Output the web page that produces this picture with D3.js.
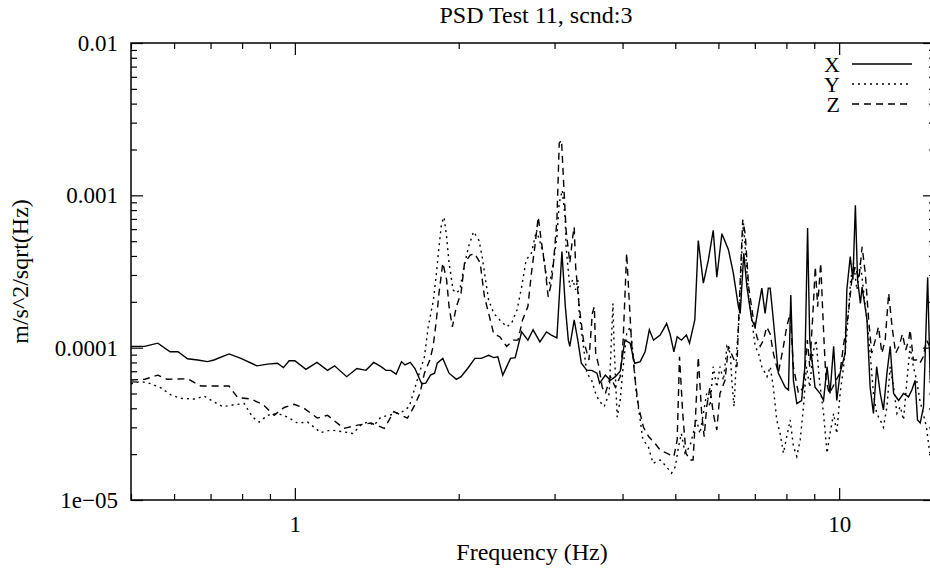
<!DOCTYPE html>
<html>
<head>
<meta charset="utf-8">
<script src="https://d3js.org/d3.v7.min.js"></script>
<style>
  body { margin: 0; background: #fff; }
  svg { display: block; }
</style>
</head>
<body>
<svg id="chart"></svg>
<script>
// PSD values (frequency in Hz, amplitude in m/s^2/sqrt(Hz))
var freqX = [0.50,0.53,0.56,0.59,0.61,0.635,0.663,0.691,0.71,0.757,0.796,0.852,0.891,0.929,0.953,0.976,1.0,1.048,1.098,1.148,
  1.183,1.245,1.30,1.351,1.396,1.44,1.47,1.50,1.535,1.57,1.593,1.63,1.662,1.71,1.74,1.775,1.806,1.826,1.87,1.92,
  1.98,2.02,2.077,2.142,2.2,2.27,2.32,2.36,2.41,2.49,2.54,2.61,2.68,2.74,2.82,2.90,2.96,3.03,3.095,3.14,
  3.18,3.2,3.26,3.31,3.36,3.44,3.51,3.59,3.63,3.72,3.8,3.88,3.96,4.04,4.13,4.21,4.31,4.40,4.48,4.56,
  4.69,4.82,4.89,4.97,5.04,5.13,5.24,5.31,5.43,5.51,5.63,5.75,5.87,5.96,6.09,6.26,6.39,6.53,6.58,6.68,
  6.77,6.91,7.01,7.11,7.21,7.31,7.41,7.47,7.57,7.73,7.96,8.07,8.15,8.24,8.36,8.53,8.65,8.75,8.83,9.03,
  9.23,9.36,9.5,9.62,9.77,9.9,10.04,10.26,10.33,10.48,10.6,10.71,10.81,10.94,11.02,11.25,11.4,11.56,11.72,11.9,
  12.06,12.24,12.41,12.59,12.86,13.13,13.41,13.6,13.79,13.93,14.09,14.29,14.54,14.7];
var psdX = [1.02e-4,1.02e-4,1.07e-4,9.4e-5,9.4e-5,8.45e-5,8.3e-5,8.1e-5,8.3e-5,9.1e-5,8.5e-5,7.6e-5,7.8e-5,7.9e-5,7.4e-5,8.2e-5,8.2e-5,7.2e-5,8.0e-5,7.1e-5,
  7.6e-5,6.45e-5,7.3e-5,7.1e-5,8.0e-5,7.5e-5,7.1e-5,7.1e-5,6.7e-5,8.1e-5,7.7e-5,8.0e-5,7.3e-5,5.8e-5,5.85e-5,6.6e-5,6.8e-5,7.9e-5,8.5e-5,6.8e-5,
  6.2e-5,6.45e-5,7.3e-5,8.5e-5,8.5e-5,8.9e-5,8.6e-5,8.7e-5,6.6e-5,8.5e-5,8.6e-5,1.27e-4,1.12e-4,1.31e-4,1.09e-4,1.27e-4,1.21e-4,1.16e-4,4.27e-4,1.86e-4,
  1.12e-4,1.02e-4,1.52e-4,1.12e-4,7.9e-5,7.1e-5,7.1e-5,6.8e-5,5.85e-5,6.6e-5,6.1e-5,6.45e-5,7.0e-5,1.12e-4,1.07e-4,7.9e-5,8.1e-5,9.4e-5,1.31e-4,1.12e-4,
  1.21e-4,1.44e-4,1.23e-4,9.4e-5,1.18e-4,1.12e-4,1.21e-4,1.07e-4,1.52e-4,5.05e-4,2.65e-4,3.76e-4,5.9e-4,2.9e-4,5.6e-4,4.4e-4,3.1e-4,1.86e-4,1.68e-4,4.17e-4,
  2.5e-4,1.52e-4,1.37e-4,1.86e-4,2.46e-4,1.68e-4,2.46e-4,2.46e-4,1.52e-4,6.8e-5,5.5e-5,5.27e-5,2.22e-4,6.1e-5,4.3e-5,4.5e-5,7.5e-5,6.1e-4,1.12e-4,5.5e-5,
  5.0e-5,4.5e-5,7.5e-5,5.0e-5,1.02e-4,4.5e-5,6.8e-5,9.2e-5,2.4e-4,3.96e-4,2.8e-4,8.6e-4,2.8e-4,1.95e-4,2.5e-4,1.52e-4,5.5e-5,3.7e-5,7.5e-5,5.0e-5,
  3.9e-5,6.8e-5,1.02e-4,5.0e-5,4.5e-5,5.0e-5,4.75e-5,5.27e-5,6.1e-5,3.35e-5,3.2e-5,4.1e-5,2.9e-4,6.1e-5];

var freqY = [0.50,0.521,0.544,0.567,0.592,0.617,0.654,0.682,0.711,0.737,0.768,0.807,0.836,0.86,0.891,0.929,0.97,1.011,1.055,1.116,
  1.165,1.232,1.277,1.322,1.36,1.399,1.439,1.491,1.533,1.577,1.622,1.657,1.693,1.73,1.758,1.797,1.82,1.84,1.86,1.88,
  1.90,1.92,1.953,1.98,2.01,2.04,2.085,2.13,2.18,2.21,2.24,2.27,2.32,2.38,2.45,2.5,2.56,2.61,2.66,2.72,
  2.78,2.86,2.9,2.94,2.99,3.03,3.06,3.1,3.14,3.15,3.2,3.24,3.28,3.31,3.33,3.39,3.44,3.51,3.57,3.62,
  3.7,3.78,3.84,3.86,3.91,3.96,4.01,4.07,4.13,4.18,4.24,4.31,4.36,4.46,4.55,4.69,4.82,4.92,5.0,5.07,
  5.13,5.21,5.32,5.39,5.47,5.55,5.63,5.71,5.79,5.87,5.96,6.04,6.13,6.22,6.31,6.35,6.41,6.49,6.56,6.63,
  6.67,6.75,6.82,6.91,7.01,7.11,7.21,7.37,7.47,7.57,7.68,7.79,7.9,8.01,8.13,8.24,8.36,8.48,8.6,8.71,
  8.83,8.95,9.07,9.2,9.36,9.5,9.62,9.77,9.9,10.04,10.19,10.33,10.5,10.63,10.78,10.94,11.1,11.25,11.4,11.56,
  11.72,11.9,12.06,12.24,12.41,12.59,12.77,12.95,13.13,13.32,13.5,13.69,13.88,14.07,14.27,14.47,14.67];
var psdY = [5.8e-5,6.0e-5,5.8e-5,5.45e-5,4.9e-5,4.65e-5,4.6e-5,4.8e-5,4.4e-5,4.1e-5,4.2e-5,4.3e-5,3.5e-5,3.25e-5,3.6e-5,3.7e-5,3.5e-5,3.2e-5,3.25e-5,2.77e-5,
  2.88e-5,2.8e-5,2.73e-5,3.1e-5,3.25e-5,3.1e-5,3.5e-5,3.6e-5,3.7e-5,3.8e-5,4.1e-5,5.27e-5,6.8e-5,8.7e-5,1.37e-4,2.05e-4,3.07e-4,4.6e-4,6.55e-4,7.2e-4,
  5.35e-4,3.6e-4,2.4e-4,2.28e-4,2.4e-4,3.24e-4,4.6e-4,5.77e-4,5.05e-4,3.9e-4,2.8e-4,2.05e-4,1.68e-4,1.52e-4,1.37e-4,1.44e-4,1.77e-4,2.5e-4,3.76e-4,4.17e-4,
  5.9e-4,4.17e-4,2.9e-4,2.65e-4,3.76e-4,5.35e-4,8.9e-4,1.08e-3,6.9e-4,4.6e-4,2.5e-4,2.8e-4,2.4e-4,2.8e-4,1.68e-4,1.02e-4,6.8e-5,6.1e-5,5.0e-5,4.5e-5,
  4.1e-5,5.0e-5,1.95e-4,1.02e-4,3.5e-5,4.5e-5,7.5e-5,1.23e-4,1.37e-4,9.2e-5,5.0e-5,3.35e-5,2.48e-5,2.25e-5,1.74e-5,1.83e-5,1.65e-5,1.5e-5,1.65e-5,2.25e-5,
  2.73e-5,2.03e-5,2.25e-5,2.73e-5,3.35e-5,2.73e-5,3.7e-5,5.0e-5,4.1e-5,7.5e-5,5.5e-5,7.5e-5,6.1e-5,1.02e-4,9.2e-5,6.1e-5,4.1e-5,1.02e-4,1.68e-4,4.6e-4,
  6.55e-4,3.6e-4,2.16e-4,1.52e-4,1.02e-4,9.2e-5,7.5e-5,6.45e-5,7.5e-5,5.5e-5,3.35e-5,2.73e-5,2.03e-5,2.6e-5,3.35e-5,2.25e-5,1.93e-5,2.48e-5,4.1e-5,7.5e-5,
  5.5e-5,9.2e-5,1.12e-4,6.1e-5,3.7e-5,2.03e-5,2.73e-5,3.7e-5,2.73e-5,5.0e-5,7.5e-5,1.23e-4,2.8e-4,3.6e-4,2.4e-4,3.6e-4,2.28e-4,1.52e-4,9.2e-5,5.0e-5,
  3.7e-5,3.35e-5,3.0e-5,4.1e-5,7.5e-5,5.5e-5,3.7e-5,4.1e-5,3.35e-5,6.1e-5,1.02e-4,7.5e-5,6.1e-5,4.5e-5,3.7e-5,3.0e-5,2.03e-5];

var freqZ = [0.50,0.53,0.56,0.583,0.635,0.672,0.70,0.757,0.785,0.83,0.873,0.916,0.956,0.997,1.04,1.10,1.148,1.23,1.304,1.38,
  1.46,1.52,1.61,1.655,1.697,1.73,1.77,1.795,1.82,1.84,1.87,1.90,1.92,1.947,1.98,2.02,2.05,2.10,2.14,2.19,
  2.23,2.27,2.32,2.38,2.45,2.52,2.57,2.62,2.68,2.72,2.76,2.80,2.84,2.88,2.92,2.96,2.99,3.03,3.06,3.09,
  3.12,3.15,3.2,3.24,3.26,3.28,3.33,3.39,3.47,3.52,3.55,3.57,3.62,3.67,3.72,3.80,3.88,3.96,4.01,4.07,
  4.12,4.16,4.22,4.28,4.37,4.47,4.59,4.69,4.82,4.97,5.04,5.09,5.16,5.23,5.32,5.39,5.45,5.51,5.59,5.65,
  5.71,5.79,5.87,5.96,6.04,6.17,6.26,6.49,6.53,6.60,6.65,6.72,6.82,6.96,7.06,7.16,7.26,7.36,7.47,7.57,
  7.73,7.9,8.01,8.13,8.24,8.42,8.6,8.74,8.83,8.95,9.04,9.13,9.25,9.32,9.39,9.46,9.59,9.73,9.87,10.03,
  10.18,10.4,10.55,10.71,10.87,11.02,11.17,11.33,11.48,11.65,11.81,11.98,12.15,12.33,12.51,12.7,12.88,13.07,13.25,13.42,
  13.5,13.69,13.88,14.07,14.27,14.47,14.67];
var psdZ = [6.13e-5,6.2e-5,6.6e-5,6.2e-5,6.25e-5,5.6e-5,5.6e-5,5.6e-5,4.7e-5,4.6e-5,4.25e-5,3.6e-5,4.05e-5,4.25e-5,4.0e-5,3.45e-5,3.6e-5,2.95e-5,3.1e-5,3.2e-5,
  2.95e-5,3.8e-5,3.45e-5,4.1e-5,5.0e-5,6.8e-5,8.3e-5,1.02e-4,1.52e-4,2.28e-4,3.6e-4,2.8e-4,1.86e-4,1.37e-4,1.86e-4,2.28e-4,3.6e-4,4.05e-4,4.15e-4,3.6e-4,
  2.16e-4,1.68e-4,1.23e-4,1.18e-4,1.02e-4,1.12e-4,1.12e-4,1.52e-4,1.86e-4,3.07e-4,4.6e-4,7.2e-4,4.85e-4,3.4e-4,2.16e-4,2.65e-4,3.76e-4,6.9e-4,2.2e-3,2.3e-3,
  1.14e-3,5.9e-4,3.6e-4,5.35e-4,6.2e-4,3.4e-4,1.86e-4,1.12e-4,8.3e-5,1.68e-4,1.86e-4,9.2e-5,7.5e-5,5.5e-5,5.0e-5,6.45e-5,5.5e-5,6.45e-5,1.12e-4,4.17e-4,
  1.86e-4,1.02e-4,6.1e-5,4.1e-5,3.0e-5,2.6e-5,2.35e-5,2.13e-5,2.03e-5,1.93e-5,2.48e-5,8.7e-5,3.7e-5,2.03e-5,1.83e-5,1.83e-5,3.7e-5,8.7e-5,3.7e-5,2.6e-5,
  4.1e-5,5.5e-5,3.7e-5,2.88e-5,5.0e-5,6.1e-5,1.02e-4,7.5e-5,1.37e-4,3.6e-4,6.9e-4,5.6e-4,2.5e-4,1.52e-4,1.18e-4,1.02e-4,1.12e-4,1.37e-4,1.23e-4,9.2e-5,
  6.8e-5,1.02e-4,1.37e-4,1.68e-4,7.5e-5,5.0e-5,5.5e-5,1.12e-4,7.5e-5,1.68e-4,3.4e-4,1.86e-4,3.6e-4,1.86e-4,1.02e-4,6.1e-5,5.0e-5,5.5e-5,6.1e-5,6.8e-5,
  1.02e-4,1.68e-4,2.8e-4,3.4e-4,2.8e-4,4.6e-4,3.07e-4,1.52e-4,9.2e-5,1.12e-4,1.37e-4,9.2e-5,1.12e-4,2.28e-4,1.37e-4,9.2e-5,1.02e-4,1.23e-4,9.65e-5,1.12e-4,
  1.31e-4,8.3e-5,8.3e-5,7.9e-5,8.7e-5,1.12e-4,1.02e-4];

var seriesNames = ["X", "Y", "Z"];
var yTickValues = [1e-5, 1e-4, 1e-3, 1e-2];
var yTickLabels = ["1e\u221205", "0.0001", "0.001", "0.01"];
var xTickValues = [1, 10];
var xTickLabels = ["1", "10"];

var chart = new function () {
    var width = 930;
    var height = 569;
    var pLeft = 131, pRight = 935, pTop = 43, pBottom = 500;
    var serif = "'Liberation Serif', 'Times New Roman', serif";

    var svg = d3.select("#chart").attr("width", width).attr("height", height);

    var x = d3.scaleLog().domain([0.5, 15]).range([pLeft, pRight]);
    var y = d3.scaleLog().domain([1e-5, 1e-2]).range([pBottom, pTop]);

    var series = [
        { name: "X", f: freqX, v: psdX, dash: null },
        { name: "Y", f: freqY, v: psdY, dash: "2,4" },
        { name: "Z", f: freqZ, v: psdZ, dash: "7,5" }
    ];

    svg.append("defs").append("clipPath").attr("id", "plotClip")
        .append("rect").attr("x", pLeft).attr("y", pTop)
        .attr("width", pRight - pLeft).attr("height", pBottom - pTop);

    var line = d3.line()
        .x(function(d) { return x(d[0]); })
        .y(function(d) { return y(d[1]); });

    var gLines = svg.append("g").attr("clip-path", "url(#plotClip)");
    series.forEach(function(s) {
        var pts = s.f.map(function(f, i) { return [f, s.v[i]]; });
        gLines.append("path")
            .datum(pts)
            .attr("d", line)
            .attr("fill", "none")
            .attr("stroke", "#000")
            .attr("stroke-width", 1.4)
            .attr("stroke-dasharray", s.dash);
    });

    // ticks: majors at decades, minors in between, mirrored on all four sides
    function isMajor(v) { return Math.abs(Math.log10(v) - Math.round(Math.log10(v))) < 1e-9; }
    var xMinor = x.ticks().filter(function(v) { return !isMajor(v); });
    var yMinor = y.ticks().filter(function(v) { return !isMajor(v); });

    function styleAxis(g) {
        g.select(".domain").remove();
        g.selectAll("line").attr("stroke", "#000").attr("stroke-width", 1.2);
        g.attr("font-family", serif).attr("font-size", 23);
        g.selectAll("text").attr("fill", "#000");
    }

    var xLabelFmt = function(v) { return xTickLabels[xTickValues.indexOf(v)]; };
    var yLabelFmt = function(v) { return yTickLabels[yTickValues.indexOf(v)]; };

    svg.append("g").attr("transform", "translate(0," + pBottom + ")")
        .call(d3.axisBottom(x).tickValues(xTickValues).tickSize(-12).tickPadding(16).tickFormat(xLabelFmt))
        .call(styleAxis);
    svg.append("g").attr("transform", "translate(0," + pBottom + ")")
        .call(d3.axisBottom(x).tickValues(xMinor).tickSize(-6).tickFormat(""))
        .call(styleAxis);
    svg.append("g").attr("transform", "translate(0," + pTop + ")")
        .call(d3.axisTop(x).tickValues(xTickValues).tickSize(-12).tickFormat(""))
        .call(styleAxis);
    svg.append("g").attr("transform", "translate(0," + pTop + ")")
        .call(d3.axisTop(x).tickValues(xMinor).tickSize(-6).tickFormat(""))
        .call(styleAxis);

    svg.append("g").attr("transform", "translate(" + pLeft + ",0)")
        .call(d3.axisLeft(y).tickValues(yTickValues).tickSize(-12).tickPadding(13).tickFormat(yLabelFmt))
        .call(styleAxis);
    svg.append("g").attr("transform", "translate(" + pLeft + ",0)")
        .call(d3.axisLeft(y).tickValues(yMinor).tickSize(-6).tickFormat(""))
        .call(styleAxis);
    svg.append("g").attr("transform", "translate(" + pRight + ",0)")
        .call(d3.axisRight(y).tickValues(yTickValues).tickSize(-12).tickFormat(""))
        .call(styleAxis);
    svg.append("g").attr("transform", "translate(" + pRight + ",0)")
        .call(d3.axisRight(y).tickValues(yMinor).tickSize(-6).tickFormat(""))
        .call(styleAxis);

    // frame
    svg.append("rect")
        .attr("x", pLeft).attr("y", pTop)
        .attr("width", pRight - pLeft).attr("height", pBottom - pTop)
        .attr("fill", "none").attr("stroke", "#000").attr("stroke-width", 1.5);

    // titles
    svg.append("text")
        .attr("x", 536).attr("y", 23)
        .attr("text-anchor", "middle")
        .attr("font-family", serif).attr("font-size", 24)
        .text("PSD Test 11, scnd:3");

    svg.append("text")
        .attr("x", 532).attr("y", 560)
        .attr("text-anchor", "middle")
        .attr("font-family", serif).attr("font-size", 24)
        .text("Frequency (Hz)");

    svg.append("text")
        .attr("transform", "translate(28," + ((pTop + pBottom) / 2) + ") rotate(-90)")
        .attr("text-anchor", "middle")
        .attr("font-family", serif).attr("font-size", 24)
        .text("m/s^2/sqrt(Hz)");

    // legend
    var legend = svg.append("g").attr("transform", "translate(0,64)");
    series.forEach(function(s, i) {
        var row = legend.append("g").attr("transform", "translate(0," + (i * 20) + ")");
        row.append("text")
            .attr("x", 840).attr("y", 8)
            .attr("text-anchor", "end")
            .attr("font-family", serif).attr("font-size", 22)
            .text(seriesNames[i]);
        row.append("line")
            .attr("x1", 852).attr("x2", 912)
            .attr("y1", 0).attr("y2", 0)
            .attr("stroke", "#000").attr("stroke-width", 1.3)
            .attr("stroke-dasharray", s.dash);
    });
};
</script>
</body>
</html>
